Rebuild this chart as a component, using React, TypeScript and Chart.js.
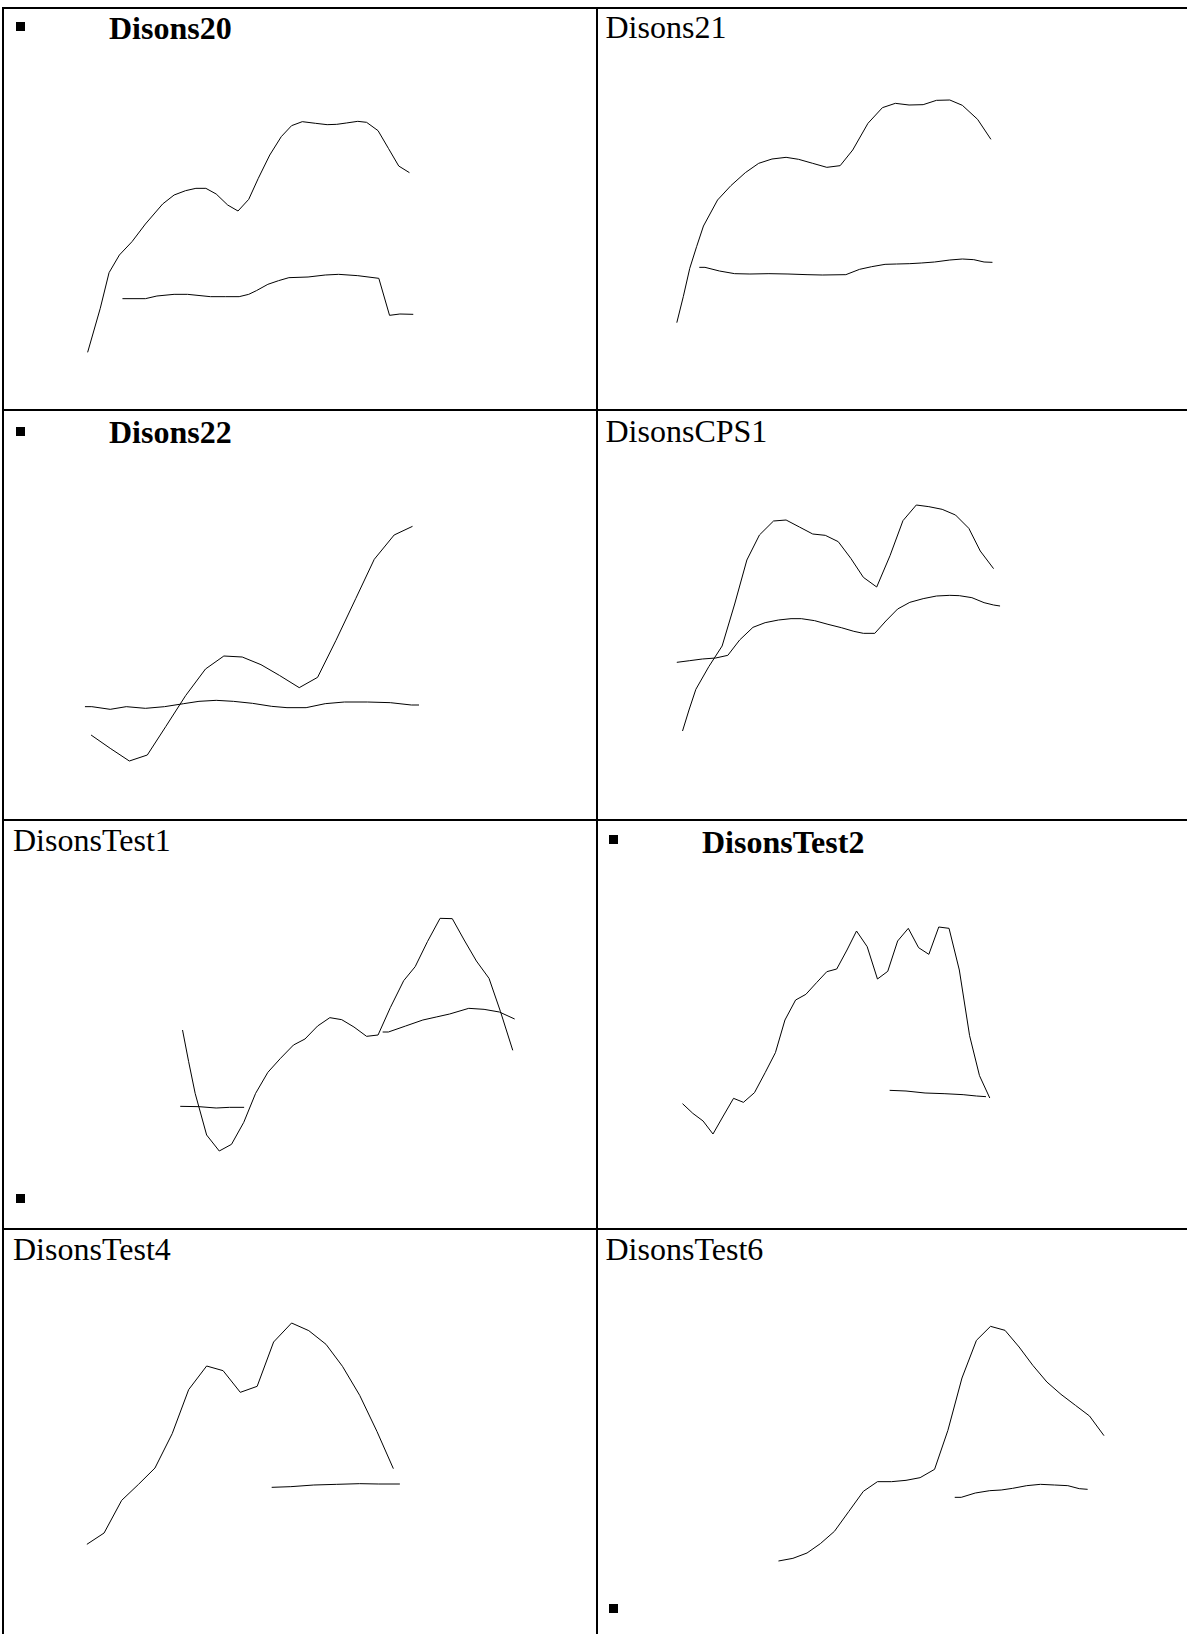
import React, { useEffect, useRef } from "react";
import { Chart, registerables } from "chart.js";

Chart.register(...registerables);

type Pt = [number, number | null];

// ---- Data (x: position along the series, y: value) ----
const disons20Upper: Pt[] = [
  [229, 203], [262, 335], [285, 442], [312, 495], [345, 535], [380, 588], [425, 648],
  [455, 675], [485, 688], [512, 695], [538, 695], [565, 678], [595, 645], [622, 627],
  [650, 662], [675, 725], [705, 795], [735, 850], [762, 883], [790, 895], [825, 890],
  [855, 886], [880, 887], [905, 891], [935, 896], [958, 893], [988, 868], [1015, 815],
  [1042, 762], [1070, 742],
];
const disons20Lower: Pt[] = [
  [320, 364], [380, 364], [410, 372], [455, 377], [490, 377], [550, 370], [590, 370],
  [625, 370], [650, 377], [670, 388], [700, 407], [728, 418], [755, 427], [805, 429],
  [850, 435], [885, 437], [935, 433], [990, 425], [1018, 314], [1045, 318], [1080, 317],
];

const disons21Upper: Pt[] = [
  [228, 292], [245, 370], [262, 455], [280, 520], [298, 582], [335, 660], [370, 703],
  [408, 742], [443, 770], [478, 783], [515, 788], [548, 782], [585, 770], [622, 758],
  [657, 763], [690, 810], [730, 890], [768, 937], [802, 950], [838, 945], [875, 946],
  [910, 959], [945, 960], [978, 944], [1018, 902], [1053, 842],
];
const disons21Lower: Pt[] = [
  [287, 458], [302, 458], [340, 447], [380, 439], [420, 438], [470, 439], [520, 438],
  [570, 436], [610, 435], [672, 436], [708, 452], [740, 460], [775, 467], [805, 468],
  [840, 469], [870, 471], [905, 474], [945, 480], [978, 483], [1008, 481], [1035, 474],
  [1057, 473],
];

const disons22Upper: Pt[] = [
  [238, 270], [288, 230], [338, 192], [385, 210], [433, 295], [485, 388], [537, 468],
  [585, 507], [633, 504], [682, 481], [730, 449], [782, 412], [830, 443], [878, 554],
  [930, 680], [978, 797], [1030, 870], [1078, 896],
];
const disons22Lower: Pt[] = [
  [222, 355], [240, 355], [288, 347], [330, 355], [380, 350], [430, 355], [480, 364],
  [520, 371], [565, 374], [610, 371], [660, 365], [710, 356], [750, 352], [800, 352],
  [850, 364], [900, 369], [960, 369], [1020, 367], [1075, 360], [1095, 360],
];

const disonsCPS1Upper: Pt[] = [
  [243, 282], [260, 345], [278, 407], [312, 475], [347, 537], [380, 663], [412, 795],
  [445, 870], [482, 912], [515, 915], [550, 894], [585, 873], [618, 869], [652, 850],
  [685, 800], [718, 743], [753, 714], [788, 808], [822, 913], [857, 960], [890, 955],
  [925, 947], [960, 930], [995, 890], [1025, 822], [1060, 769],
];
const disonsCPS1Lower: Pt[] = [
  [228, 488], [262, 493], [295, 498], [330, 501], [362, 509], [393, 555], [428, 593],
  [460, 607], [495, 615], [528, 619], [555, 619], [590, 613], [625, 602], [660, 592],
  [693, 581], [718, 575], [748, 575], [777, 612], [808, 648], [840, 668], [875, 679],
  [910, 687], [945, 689], [970, 688], [1003, 682], [1035, 667], [1060, 660], [1077, 657],
];

const disonsTest1Upper: Pt[] = [
  [477, 615], [493, 520], [510, 425], [540, 300], [573, 252], [605, 272], [637, 338],
  [668, 425], [700, 488], [733, 530], [767, 570], [797, 588], [830, 627], [862, 652],
  [893, 646], [925, 624], [958, 596], [988, 600], [1020, 682], [1055, 763], [1085, 805],
  [1117, 880], [1150, 950], [1182, 949], [1213, 885], [1245, 822], [1278, 770],
  [1308, 670], [1340, 554],
];
const disonsTest1Lower: Pt[] = [
  [471, 386], [520, 385], [565, 381], [600, 383], [638, 383], [800, null],
  [1000, 609], [1015, 609], [1060, 627], [1105, 645], [1140, 654], [1175, 663],
  [1225, 680], [1265, 677], [1305, 669], [1345, 648],
];

const disonsTest2Upper: Pt[] = [
  [243, 394], [270, 365], [297, 342], [323, 303], [350, 357], [377, 410], [403, 398],
  [432, 427], [460, 487], [487, 547], [512, 645], [540, 705], [567, 722], [595, 757],
  [622, 790], [648, 798], [675, 855], [700, 912], [728, 865], [755, 768], [782, 791],
  [808, 882], [836, 920], [863, 862], [890, 842], [916, 924], [943, 920], [970, 795],
  [997, 598], [1023, 478], [1050, 411],
];
const disonsTest2Lower: Pt[] = [
  [787, 434], [830, 432], [880, 426], [930, 424], [980, 421], [1015, 417], [1040, 415],
];

const disonsTest4Upper: Pt[] = [
  [227, 269], [272, 303], [318, 401], [362, 449], [405, 498], [450, 601], [493, 733],
  [540, 804], [583, 790], [628, 725], [672, 743], [715, 876], [762, 933], [807, 910],
  [852, 869], [895, 803], [940, 716], [985, 608], [1028, 496],
];
const disonsTest4Lower: Pt[] = [
  [710, 440], [760, 442], [820, 447], [880, 449], [940, 451], [990, 450], [1045, 450],
];

const disonsTest6Upper: Pt[] = [
  [495, 219], [533, 227], [570, 243], [605, 271], [642, 308], [680, 368], [718, 428],
  [755, 457], [792, 457], [830, 461], [867, 469], [905, 494], [940, 611], [977, 768],
  [1015, 881], [1052, 923], [1090, 911], [1127, 861], [1163, 806], [1200, 756],
  [1237, 719], [1275, 686], [1312, 654], [1350, 595],
];
const disonsTest6Lower: Pt[] = [
  [958, 410], [975, 410], [1012, 423], [1050, 430], [1080, 432], [1110, 437], [1147, 445],
  [1183, 449], [1220, 447], [1255, 445], [1285, 436], [1307, 434],
];

const titles = [
  "Disons20", "Disons21", "Disons22", "DisonsCPS1",
  "DisonsTest1", "DisonsTest2", "DisonsTest4", "DisonsTest6",
];
const seriesByPanel: Pt[][][] = [
  [disons20Upper, disons20Lower],
  [disons21Upper, disons21Lower],
  [disons22Upper, disons22Lower],
  [disonsCPS1Upper, disonsCPS1Lower],
  [disonsTest1Upper, disonsTest1Lower],
  [disonsTest2Upper, disonsTest2Lower],
  [disonsTest4Upper, disonsTest4Lower],
  [disonsTest6Upper, disonsTest6Lower],
];
const xMax = 1568;

// ---- Layout ----
const boldTitle = [true, false, true, false, false, true, false, false];
const plotBoxes = [
  { left: 0, top: 0, width: 600, height: 420, yMax: 1260 },
  { left: 590, top: 0, width: 597, height: 420, yMax: 1260 },
  { left: 0, top: 405, width: 600, height: 420, yMax: 1260 },
  { left: 590, top: 405, width: 597, height: 420, yMax: 1260 },
  { left: 0, top: 815, width: 600, height: 420, yMax: 1260 },
  { left: 590, top: 815, width: 597, height: 420, yMax: 1260 },
  { left: 0, top: 1222, width: 600, height: 412, yMax: 1236 },
  { left: 590, top: 1222, width: 597, height: 412, yMax: 1236 },
];
const titlePos = [
  { left: 109, top: 11.5 },
  { left: 605.5, top: 10.5 },
  { left: 109, top: 415.5 },
  { left: 605.5, top: 415 },
  { left: 13, top: 824 },
  { left: 702, top: 825.5 },
  { left: 13, top: 1232.5 },
  { left: 605.5, top: 1232.5 },
];
const bullets = [
  { left: 15.5, top: 21.5 },
  { left: 15.5, top: 426.5 },
  { left: 608.5, top: 835 },
  { left: 15.5, top: 1194 },
  { left: 609, top: 1604 },
];
const hLines = [7, 409, 819, 1228];
const vLines = [2, 596];

function LinePanel(props: { series: Pt[][]; box: { left: number; top: number; width: number; height: number; yMax: number } }) {
  const ref = useRef<HTMLCanvasElement>(null);
  const { series, box } = props;
  useEffect(() => {
    if (!ref.current) return;
    const chart = new Chart(ref.current, {
      type: "line",
      data: {
        datasets: series.map((s) => ({
          data: s.map(([x, y]) => ({ x, y })),
          borderColor: "#000",
          borderWidth: 1,
          pointRadius: 0,
          pointHoverRadius: 0,
          fill: false,
          tension: 0,
          spanGaps: false,
        })),
      },
      options: {
        animation: false,
        responsive: false,
        events: [],
        layout: { padding: 0 },
        plugins: { legend: { display: false }, tooltip: { enabled: false }, title: { display: false } },
        scales: {
          x: { type: "linear", display: false, min: 0, max: xMax },
          y: { type: "linear", display: false, min: 0, max: box.yMax },
        },
      },
    } as any);
    return () => chart.destroy();
  }, []);
  return (
    <canvas
      ref={ref}
      width={box.width}
      height={box.height}
      style={{ position: "absolute", left: box.left, top: box.top, width: box.width, height: box.height }}
    />
  );
}

export default function App() {
  const font = "'Liberation Serif', 'Times New Roman', serif";
  return (
    <div
      style={{
        position: "absolute",
        left: 0,
        top: 0,
        width: 1187,
        height: 1634,
        overflow: "hidden",
        background: "#fff",
      }}
    >
      {hLines.map((y, i) => (
        <div key={"h" + i} style={{ position: "absolute", left: 2, top: y, width: 1185, height: 2, background: "#000" }} />
      ))}
      {vLines.map((x, i) => (
        <div key={"v" + i} style={{ position: "absolute", left: x, top: 7, width: 2, height: 1627, background: "#000" }} />
      ))}
      {bullets.map((b, i) => (
        <div key={"b" + i} style={{ position: "absolute", left: b.left, top: b.top, width: 9, height: 9, background: "#000" }} />
      ))}
      {titles.map((t, i) => (
        <div
          key={"t" + i}
          style={{
            position: "absolute",
            left: titlePos[i].left,
            top: titlePos[i].top,
            fontFamily: font,
            fontSize: 32,
            lineHeight: "32px",
            fontWeight: boldTitle[i] ? "bold" : "normal",
            whiteSpace: "nowrap",
            color: "#000",
          }}
        >
          {t}
        </div>
      ))}
      {seriesByPanel.map((s, i) => (
        <LinePanel key={"p" + i} series={s} box={plotBoxes[i]} />
      ))}
    </div>
  );
}
